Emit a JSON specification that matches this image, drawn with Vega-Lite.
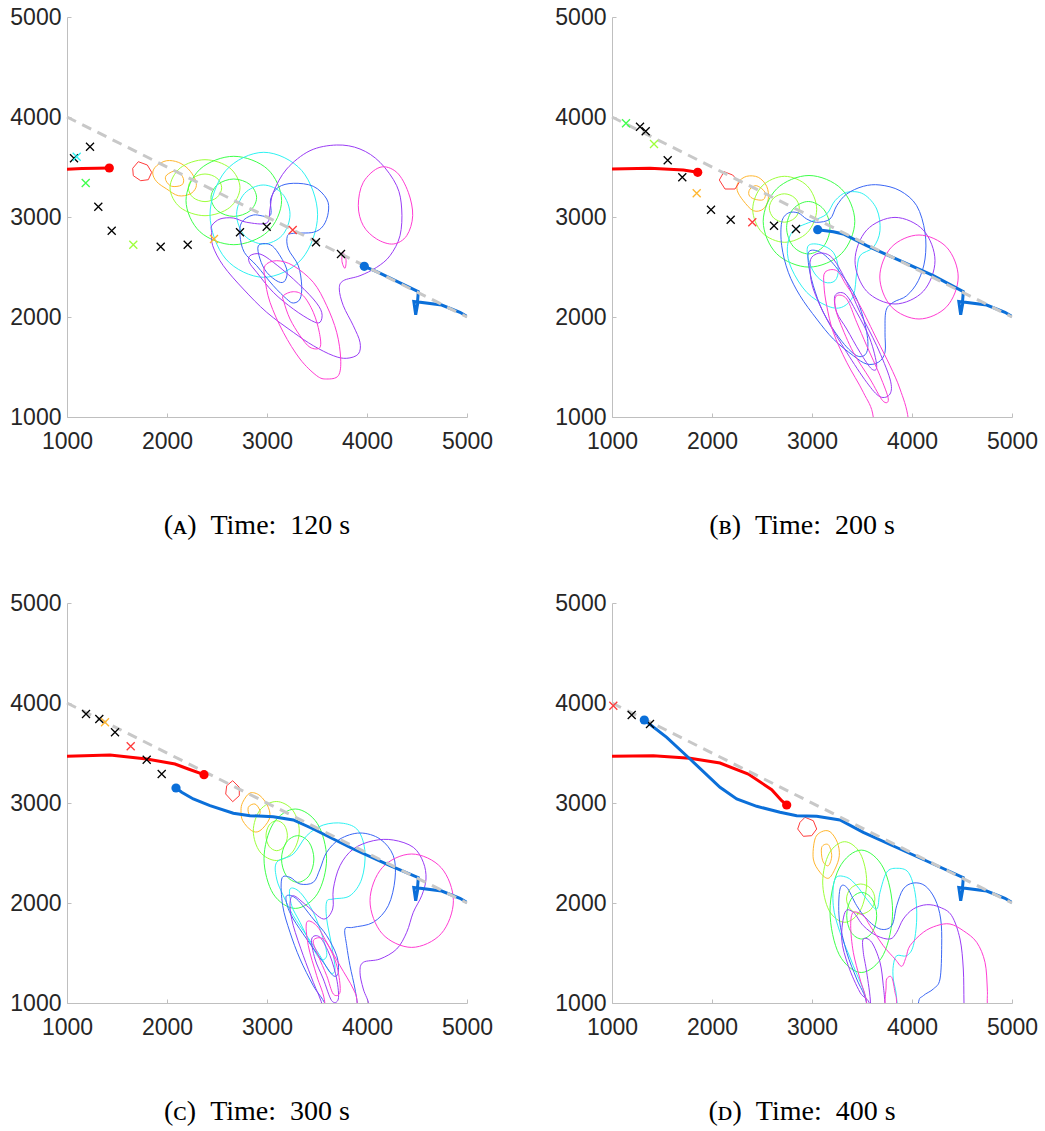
{
"$schema": "https://vega.github.io/schema/vega-lite/v6.json",
"background": "white",
"padding": {"left": 9, "top": 6, "right": 0, "bottom": 0},
"config": {
  "view": {"stroke": null},
  "axis": {"grid": false, "title": null, "domainColor": "#bfbfbf", "domainWidth": 1, "tickColor": "#bfbfbf", "tickSize": -4, "labelFont": "Liberation Sans", "labelFontSize": 23, "labelColor": "#262626", "labelFlush": false, "labelOverlap": false, "format": "d"},
  "axisX": {"labelPadding": 17},
  "axisY": {"labelPadding": 10},
  "title": {"font": "Liberation Serif", "fontSize": 28, "fontWeight": "normal", "color": "#000000", "orient": "bottom", "offset": 59, "dx": -10}
},
"datasets": {
"ref": [{"x": 1000, "y": 4000}, {"x": 5000, "y": 2000}],
"marks": [
{"p":"A","t":"x","g":"black","x":1070,"y":3587},{"p":"A","t":"x","g":"black","x":1230,"y":3703},{"p":"A","t":"x","g":"black","x":1313,"y":3103},{"p":"A","t":"x","g":"black","x":1447,"y":2863},{"p":"A","t":"x","g":"black","x":1937,"y":2703},{"p":"A","t":"x","g":"black","x":2207,"y":2723},{"p":"A","t":"x","g":"black","x":2730,"y":2847},{"p":"A","t":"x","g":"black","x":2997,"y":2903},{"p":"A","t":"x","g":"black","x":3490,"y":2747},{"p":"A","t":"x","g":"black","x":3740,"y":2630},
{"p":"A","t":"x","g":"cyan","x":1097,"y":3603},{"p":"A","t":"x","g":"green","x":1187,"y":3340},{"p":"A","t":"x","g":"ygreen","x":1663,"y":2723},{"p":"A","t":"x","g":"orange","x":2470,"y":2780},{"p":"A","t":"x","g":"red","x":3257,"y":2870},
{"p":"B","t":"x","g":"black","x":1280,"y":3903},{"p":"B","t":"x","g":"black","x":1337,"y":3857},{"p":"B","t":"x","g":"black","x":1557,"y":3567},{"p":"B","t":"x","g":"black","x":1703,"y":3397},{"p":"B","t":"x","g":"black","x":1990,"y":3073},{"p":"B","t":"x","g":"black","x":2187,"y":2973},{"p":"B","t":"x","g":"black","x":2620,"y":2913},{"p":"B","t":"x","g":"black","x":2840,"y":2880},
{"p":"B","t":"x","g":"green","x":1140,"y":3937},{"p":"B","t":"x","g":"ygreen","x":1420,"y":3730},{"p":"B","t":"x","g":"orange","x":1847,"y":3237},{"p":"B","t":"x","g":"red","x":2403,"y":2947},
{"p":"C","t":"x","g":"black","x":1190,"y":3890},{"p":"C","t":"x","g":"black","x":1323,"y":3840},{"p":"C","t":"x","g":"black","x":1480,"y":3707},{"p":"C","t":"x","g":"black","x":1797,"y":3433},{"p":"C","t":"x","g":"black","x":1947,"y":3290},
{"p":"C","t":"x","g":"orange","x":1380,"y":3807},{"p":"C","t":"x","g":"red","x":1637,"y":3567},
{"p":"D","t":"x","g":"black","x":1197,"y":3880},{"p":"D","t":"x","g":"black","x":1380,"y":3790},{"p":"D","t":"x","g":"red","x":1013,"y":3973},
{"p":"A","t":"dot","g":"tred","x":1423,"y":3490},{"p":"A","t":"dot","g":"tblue","x":3973,"y":2507},
{"p":"B","t":"dot","g":"tred","x":1857,"y":3447},{"p":"B","t":"dot","g":"tblue","x":3057,"y":2873},
{"p":"C","t":"dot","g":"tred","x":2370,"y":3283},{"p":"C","t":"dot","g":"tblue","x":2090,"y":3150},
{"p":"D","t":"dot","g":"tred","x":2747,"y":2980},{"p":"D","t":"dot","g":"tblue","x":1323,"y":3830}
],
"paths": [
{"p":"A","g":"tred","i":0,"x":1000,"y":3478},{"p":"A","g":"tred","i":1,"x":1150,"y":3484},{"p":"A","g":"tred","i":2,"x":1300,"y":3488},{"p":"A","g":"tred","i":3,"x":1423,"y":3490},
{"p":"A","g":"tblue","i":0,"x":3973,"y":2507},{"p":"A","g":"tblue","i":1,"x":4113,"y":2447},{"p":"A","g":"tblue","i":2,"x":4513,"y":2253},{"p":"A","g":"tblue","i":3,"x":4505,"y":2150},{"p":"A","g":"tblue","i":4,"x":4468,"y":2155},{"p":"A","g":"tblue","i":5,"x":4487,"y":2023},{"p":"A","g":"tblue","i":6,"x":4510,"y":2150},{"p":"A","g":"tblue","i":7,"x":4747,"y":2120},{"p":"A","g":"tblue","i":8,"x":4930,"y":2047},{"p":"A","g":"tblue","i":9,"x":5000,"y":2005},
{"p":"B","g":"tred","i":0,"x":1000,"y":3480},{"p":"B","g":"tred","i":1,"x":1380,"y":3487},{"p":"B","g":"tred","i":2,"x":1713,"y":3470},{"p":"B","g":"tred","i":3,"x":1857,"y":3447},
{"p":"B","g":"tblue","i":0,"x":3057,"y":2873},{"p":"B","g":"tblue","i":1,"x":3213,"y":2853},{"p":"B","g":"tblue","i":2,"x":3313,"y":2830},{"p":"B","g":"tblue","i":3,"x":3547,"y":2713},{"p":"B","g":"tblue","i":4,"x":3880,"y":2563},{"p":"B","g":"tblue","i":5,"x":4213,"y":2413},{"p":"B","g":"tblue","i":6,"x":4513,"y":2253},{"p":"B","g":"tblue","i":7,"x":4505,"y":2150},{"p":"B","g":"tblue","i":8,"x":4468,"y":2155},{"p":"B","g":"tblue","i":9,"x":4487,"y":2023},{"p":"B","g":"tblue","i":10,"x":4510,"y":2150},{"p":"B","g":"tblue","i":11,"x":4747,"y":2120},{"p":"B","g":"tblue","i":12,"x":4930,"y":2047},{"p":"B","g":"tblue","i":13,"x":5000,"y":2005},
{"p":"C","g":"tred","i":0,"x":1000,"y":3467},{"p":"C","g":"tred","i":1,"x":1430,"y":3480},{"p":"C","g":"tred","i":2,"x":1797,"y":3440},{"p":"C","g":"tred","i":3,"x":2080,"y":3390},{"p":"C","g":"tred","i":4,"x":2213,"y":3340},{"p":"C","g":"tred","i":5,"x":2370,"y":3283},
{"p":"C","g":"tblue","i":0,"x":2090,"y":3150},{"p":"C","g":"tblue","i":1,"x":2147,"y":3107},{"p":"C","g":"tblue","i":2,"x":2263,"y":3040},{"p":"C","g":"tblue","i":3,"x":2430,"y":2973},{"p":"C","g":"tblue","i":4,"x":2663,"y":2897},{"p":"C","g":"tblue","i":5,"x":2830,"y":2873},{"p":"C","g":"tblue","i":6,"x":3063,"y":2863},{"p":"C","g":"tblue","i":7,"x":3263,"y":2830},{"p":"C","g":"tblue","i":8,"x":3463,"y":2740},{"p":"C","g":"tblue","i":9,"x":3863,"y":2540},{"p":"C","g":"tblue","i":10,"x":4230,"y":2373},{"p":"C","g":"tblue","i":11,"x":4513,"y":2253},{"p":"C","g":"tblue","i":12,"x":4505,"y":2150},{"p":"C","g":"tblue","i":13,"x":4468,"y":2155},{"p":"C","g":"tblue","i":14,"x":4487,"y":2023},{"p":"C","g":"tblue","i":15,"x":4510,"y":2150},{"p":"C","g":"tblue","i":16,"x":4747,"y":2120},{"p":"C","g":"tblue","i":17,"x":4930,"y":2047},{"p":"C","g":"tblue","i":18,"x":5000,"y":2005},
{"p":"D","g":"tred","i":0,"x":1000,"y":3467},{"p":"D","g":"tred","i":1,"x":1413,"y":3473},{"p":"D","g":"tred","i":2,"x":1780,"y":3447},{"p":"D","g":"tred","i":3,"x":2080,"y":3400},{"p":"D","g":"tred","i":4,"x":2363,"y":3290},{"p":"D","g":"tred","i":5,"x":2597,"y":3133},{"p":"D","g":"tred","i":6,"x":2697,"y":3023},{"p":"D","g":"tred","i":7,"x":2747,"y":2980},
{"p":"D","g":"tblue","i":0,"x":1323,"y":3830},{"p":"D","g":"tblue","i":1,"x":1547,"y":3657},{"p":"D","g":"tblue","i":2,"x":1780,"y":3440},{"p":"D","g":"tblue","i":3,"x":2080,"y":3157},{"p":"D","g":"tblue","i":4,"x":2247,"y":3040},{"p":"D","g":"tblue","i":5,"x":2447,"y":2967},{"p":"D","g":"tblue","i":6,"x":2680,"y":2907},{"p":"D","g":"tblue","i":7,"x":2847,"y":2873},{"p":"D","g":"tblue","i":8,"x":3047,"y":2867},{"p":"D","g":"tblue","i":9,"x":3280,"y":2830},{"p":"D","g":"tblue","i":10,"x":3513,"y":2707},{"p":"D","g":"tblue","i":11,"x":3880,"y":2540},{"p":"D","g":"tblue","i":12,"x":4213,"y":2390},{"p":"D","g":"tblue","i":13,"x":4513,"y":2253},{"p":"D","g":"tblue","i":14,"x":4505,"y":2150},{"p":"D","g":"tblue","i":15,"x":4468,"y":2155},{"p":"D","g":"tblue","i":16,"x":4487,"y":2023},{"p":"D","g":"tblue","i":17,"x":4510,"y":2150},{"p":"D","g":"tblue","i":18,"x":4747,"y":2120},{"p":"D","g":"tblue","i":19,"x":4930,"y":2047},{"p":"D","g":"tblue","i":20,"x":5000,"y":2005}
],
"contours": [
{"p":"A","id":"A1","g":"red","i":0,"x":1713,"y":3553},{"p":"A","id":"A1","g":"red","i":1,"x":1803,"y":3520},{"p":"A","id":"A1","g":"red","i":2,"x":1847,"y":3447},{"p":"A","id":"A1","g":"red","i":3,"x":1813,"y":3373},{"p":"A","id":"A1","g":"red","i":4,"x":1737,"y":3363},{"p":"A","id":"A1","g":"red","i":5,"x":1663,"y":3413},{"p":"A","id":"A1","g":"red","i":6,"x":1657,"y":3487},
{"p":"A","id":"A2","g":"orange","i":0,"x":1897,"y":3513},{"p":"A","id":"A2","g":"orange","i":1,"x":1997,"y":3563},{"p":"A","id":"A2","g":"orange","i":2,"x":2113,"y":3547},{"p":"A","id":"A2","g":"orange","i":3,"x":2213,"y":3480},{"p":"A","id":"A2","g":"orange","i":4,"x":2280,"y":3380},{"p":"A","id":"A2","g":"orange","i":5,"x":2290,"y":3297},{"p":"A","id":"A2","g":"orange","i":6,"x":2230,"y":3230},{"p":"A","id":"A2","g":"orange","i":7,"x":2113,"y":3213},{"p":"A","id":"A2","g":"orange","i":8,"x":1997,"y":3280},{"p":"A","id":"A2","g":"orange","i":9,"x":1897,"y":3353},{"p":"A","id":"A2","g":"orange","i":10,"x":1857,"y":3440},
{"p":"A","id":"A3","g":"orange","i":0,"x":1997,"y":3420},{"p":"A","id":"A3","g":"orange","i":1,"x":2097,"y":3463},{"p":"A","id":"A3","g":"orange","i":2,"x":2163,"y":3387},{"p":"A","id":"A3","g":"orange","i":3,"x":2147,"y":3320},{"p":"A","id":"A3","g":"orange","i":4,"x":2047,"y":3307},{"p":"A","id":"A3","g":"orange","i":5,"x":1990,"y":3363},
{"p":"A","id":"A4","g":"ygreen","i":0,"x":2730,"y":3293},{"p":"A","id":"A4","g":"ygreen","i":1,"x":2627,"y":3491},{"p":"A","id":"A4","g":"ygreen","i":2,"x":2380,"y":3573},{"p":"A","id":"A4","g":"ygreen","i":3,"x":2133,"y":3491},{"p":"A","id":"A4","g":"ygreen","i":4,"x":2030,"y":3293},{"p":"A","id":"A4","g":"ygreen","i":5,"x":2133,"y":3095},{"p":"A","id":"A4","g":"ygreen","i":6,"x":2380,"y":3013},{"p":"A","id":"A4","g":"ygreen","i":7,"x":2627,"y":3095},
{"p":"A","id":"A5","g":"ygreen","i":0,"x":2547,"y":3292},{"p":"A","id":"A5","g":"ygreen","i":1,"x":2498,"y":3390},{"p":"A","id":"A5","g":"ygreen","i":2,"x":2380,"y":3430},{"p":"A","id":"A5","g":"ygreen","i":3,"x":2262,"y":3390},{"p":"A","id":"A5","g":"ygreen","i":4,"x":2213,"y":3292},{"p":"A","id":"A5","g":"ygreen","i":5,"x":2262,"y":3194},{"p":"A","id":"A5","g":"ygreen","i":6,"x":2380,"y":3154},{"p":"A","id":"A5","g":"ygreen","i":7,"x":2498,"y":3194},
{"p":"A","id":"A6","g":"green","i":0,"x":3146,"y":3165},{"p":"A","id":"A6","g":"green","i":1,"x":3006,"y":3478},{"p":"A","id":"A6","g":"green","i":2,"x":2668,"y":3607},{"p":"A","id":"A6","g":"green","i":3,"x":2330,"y":3478},{"p":"A","id":"A6","g":"green","i":4,"x":2190,"y":3165},{"p":"A","id":"A6","g":"green","i":5,"x":2330,"y":2852},{"p":"A","id":"A6","g":"green","i":6,"x":2668,"y":2723},{"p":"A","id":"A6","g":"green","i":7,"x":3006,"y":2852},
{"p":"A","id":"A7","g":"green","i":0,"x":2896,"y":3193},{"p":"A","id":"A7","g":"green","i":1,"x":2829,"y":3325},{"p":"A","id":"A7","g":"green","i":2,"x":2668,"y":3380},{"p":"A","id":"A7","g":"green","i":3,"x":2507,"y":3325},{"p":"A","id":"A7","g":"green","i":4,"x":2440,"y":3193},{"p":"A","id":"A7","g":"green","i":5,"x":2507,"y":3061},{"p":"A","id":"A7","g":"green","i":6,"x":2668,"y":3006},{"p":"A","id":"A7","g":"green","i":7,"x":2829,"y":3061},
{"p":"A","id":"A8","g":"cyan","i":0,"x":3506,"y":3022},{"p":"A","id":"A8","g":"cyan","i":1,"x":3348,"y":3464},{"p":"A","id":"A8","g":"cyan","i":2,"x":2968,"y":3647},{"p":"A","id":"A8","g":"cyan","i":3,"x":2588,"y":3464},{"p":"A","id":"A8","g":"cyan","i":4,"x":2430,"y":3022},{"p":"A","id":"A8","g":"cyan","i":5,"x":2588,"y":2580},{"p":"A","id":"A8","g":"cyan","i":6,"x":2968,"y":2397},{"p":"A","id":"A8","g":"cyan","i":7,"x":3348,"y":2580},
{"p":"A","id":"A9","g":"cyan","i":0,"x":3230,"y":3025},{"p":"A","id":"A9","g":"cyan","i":1,"x":3152,"y":3234},{"p":"A","id":"A9","g":"cyan","i":2,"x":2963,"y":3320},{"p":"A","id":"A9","g":"cyan","i":3,"x":2774,"y":3234},{"p":"A","id":"A9","g":"cyan","i":4,"x":2696,"y":3025},{"p":"A","id":"A9","g":"cyan","i":5,"x":2774,"y":2816},{"p":"A","id":"A9","g":"cyan","i":6,"x":2963,"y":2730},{"p":"A","id":"A9","g":"cyan","i":7,"x":3152,"y":2816},
{"p":"A","id":"A10","g":"blue","i":0,"x":3030,"y":3013},{"p":"A","id":"A10","g":"blue","i":1,"x":3037,"y":3180},{"p":"A","id":"A10","g":"blue","i":2,"x":3113,"y":3297},{"p":"A","id":"A10","g":"blue","i":3,"x":3263,"y":3337},{"p":"A","id":"A10","g":"blue","i":4,"x":3463,"y":3307},{"p":"A","id":"A10","g":"blue","i":5,"x":3597,"y":3180},{"p":"A","id":"A10","g":"blue","i":6,"x":3613,"y":3047},{"p":"A","id":"A10","g":"blue","i":7,"x":3563,"y":2913},{"p":"A","id":"A10","g":"blue","i":8,"x":3463,"y":2847},{"p":"A","id":"A10","g":"blue","i":9,"x":3263,"y":2837},{"p":"A","id":"A10","g":"blue","i":10,"x":3203,"y":2807},{"p":"A","id":"A10","g":"blue","i":11,"x":3213,"y":2680},{"p":"A","id":"A10","g":"blue","i":12,"x":3313,"y":2513},{"p":"A","id":"A10","g":"blue","i":13,"x":3347,"y":2313},{"p":"A","id":"A10","g":"blue","i":14,"x":3330,"y":2180},{"p":"A","id":"A10","g":"blue","i":15,"x":3263,"y":2140},{"p":"A","id":"A10","g":"blue","i":16,"x":3197,"y":2180},{"p":"A","id":"A10","g":"blue","i":17,"x":3063,"y":2313},{"p":"A","id":"A10","g":"blue","i":18,"x":2897,"y":2513},{"p":"A","id":"A10","g":"blue","i":19,"x":2773,"y":2647},{"p":"A","id":"A10","g":"blue","i":20,"x":2730,"y":2813},{"p":"A","id":"A10","g":"blue","i":21,"x":2747,"y":2947},{"p":"A","id":"A10","g":"blue","i":22,"x":2863,"y":3020},
{"p":"A","id":"A11","g":"blue","i":0,"x":2913,"y":2713},{"p":"A","id":"A11","g":"blue","i":1,"x":3013,"y":2730},{"p":"A","id":"A11","g":"blue","i":2,"x":3097,"y":2663},{"p":"A","id":"A11","g":"blue","i":3,"x":3197,"y":2480},{"p":"A","id":"A11","g":"blue","i":4,"x":3180,"y":2363},{"p":"A","id":"A11","g":"blue","i":5,"x":3113,"y":2353},{"p":"A","id":"A11","g":"blue","i":6,"x":2997,"y":2447},{"p":"A","id":"A11","g":"blue","i":7,"x":2930,"y":2580},
{"p":"A","id":"A12","g":"purple","i":0,"x":2447,"y":2913},{"p":"A","id":"A12","g":"purple","i":1,"x":2530,"y":2980},{"p":"A","id":"A12","g":"purple","i":2,"x":2663,"y":2990},{"p":"A","id":"A12","g":"purple","i":3,"x":2797,"y":2947},{"p":"A","id":"A12","g":"purple","i":4,"x":2997,"y":2940},{"p":"A","id":"A12","g":"purple","i":5,"x":3030,"y":3080},{"p":"A","id":"A12","g":"purple","i":6,"x":3063,"y":3247},{"p":"A","id":"A12","g":"purple","i":7,"x":3197,"y":3480},{"p":"A","id":"A12","g":"purple","i":8,"x":3430,"y":3663},{"p":"A","id":"A12","g":"purple","i":9,"x":3697,"y":3720},{"p":"A","id":"A12","g":"purple","i":10,"x":3930,"y":3680},{"p":"A","id":"A12","g":"purple","i":11,"x":4130,"y":3547},{"p":"A","id":"A12","g":"purple","i":12,"x":4297,"y":3313},{"p":"A","id":"A12","g":"purple","i":13,"x":4347,"y":3080},{"p":"A","id":"A12","g":"purple","i":14,"x":4330,"y":2813},{"p":"A","id":"A12","g":"purple","i":15,"x":4230,"y":2613},{"p":"A","id":"A12","g":"purple","i":16,"x":4097,"y":2497},{"p":"A","id":"A12","g":"purple","i":17,"x":3930,"y":2413},{"p":"A","id":"A12","g":"purple","i":18,"x":3763,"y":2363},{"p":"A","id":"A12","g":"purple","i":19,"x":3723,"y":2280},{"p":"A","id":"A12","g":"purple","i":20,"x":3763,"y":2113},{"p":"A","id":"A12","g":"purple","i":21,"x":3863,"y":1913},{"p":"A","id":"A12","g":"purple","i":22,"x":3930,"y":1747},{"p":"A","id":"A12","g":"purple","i":23,"x":3913,"y":1630},{"p":"A","id":"A12","g":"purple","i":24,"x":3797,"y":1587},{"p":"A","id":"A12","g":"purple","i":25,"x":3663,"y":1613},{"p":"A","id":"A12","g":"purple","i":26,"x":3463,"y":1713},{"p":"A","id":"A12","g":"purple","i":27,"x":3263,"y":1847},{"p":"A","id":"A12","g":"purple","i":28,"x":2997,"y":2047},{"p":"A","id":"A12","g":"purple","i":29,"x":2763,"y":2280},{"p":"A","id":"A12","g":"purple","i":30,"x":2563,"y":2513},{"p":"A","id":"A12","g":"purple","i":31,"x":2457,"y":2713},{"p":"A","id":"A12","g":"purple","i":32,"x":2447,"y":2847},
{"p":"A","id":"A13","g":"purple","i":0,"x":2830,"y":2613},{"p":"A","id":"A13","g":"purple","i":1,"x":2930,"y":2630},{"p":"A","id":"A13","g":"purple","i":2,"x":3063,"y":2547},{"p":"A","id":"A13","g":"purple","i":3,"x":3263,"y":2380},{"p":"A","id":"A13","g":"purple","i":4,"x":3463,"y":2180},{"p":"A","id":"A13","g":"purple","i":5,"x":3547,"y":2047},{"p":"A","id":"A13","g":"purple","i":6,"x":3530,"y":1947},{"p":"A","id":"A13","g":"purple","i":7,"x":3447,"y":1963},{"p":"A","id":"A13","g":"purple","i":8,"x":3263,"y":2080},{"p":"A","id":"A13","g":"purple","i":9,"x":3063,"y":2247},{"p":"A","id":"A13","g":"purple","i":10,"x":2897,"y":2447},{"p":"A","id":"A13","g":"purple","i":11,"x":2823,"y":2547},
{"p":"A","id":"A14","g":"magenta","i":0,"x":3913,"y":3113},{"p":"A","id":"A14","g":"magenta","i":1,"x":3963,"y":3347},{"p":"A","id":"A14","g":"magenta","i":2,"x":4130,"y":3497},{"p":"A","id":"A14","g":"magenta","i":3,"x":4297,"y":3447},{"p":"A","id":"A14","g":"magenta","i":4,"x":4413,"y":3247},{"p":"A","id":"A14","g":"magenta","i":5,"x":4457,"y":3013},{"p":"A","id":"A14","g":"magenta","i":6,"x":4397,"y":2813},{"p":"A","id":"A14","g":"magenta","i":7,"x":4263,"y":2730},{"p":"A","id":"A14","g":"magenta","i":8,"x":4097,"y":2780},{"p":"A","id":"A14","g":"magenta","i":9,"x":3963,"y":2913},
{"p":"A","id":"A15","g":"magenta","i":0,"x":2980,"y":2513},{"p":"A","id":"A15","g":"magenta","i":1,"x":3097,"y":2563},{"p":"A","id":"A15","g":"magenta","i":2,"x":3263,"y":2513},{"p":"A","id":"A15","g":"magenta","i":3,"x":3463,"y":2347},{"p":"A","id":"A15","g":"magenta","i":4,"x":3597,"y":2113},{"p":"A","id":"A15","g":"magenta","i":5,"x":3697,"y":1847},{"p":"A","id":"A15","g":"magenta","i":6,"x":3737,"y":1580},{"p":"A","id":"A15","g":"magenta","i":7,"x":3713,"y":1413},{"p":"A","id":"A15","g":"magenta","i":8,"x":3597,"y":1380},{"p":"A","id":"A15","g":"magenta","i":9,"x":3497,"y":1413},{"p":"A","id":"A15","g":"magenta","i":10,"x":3330,"y":1580},{"p":"A","id":"A15","g":"magenta","i":11,"x":3163,"y":1847},{"p":"A","id":"A15","g":"magenta","i":12,"x":3030,"y":2147},{"p":"A","id":"A15","g":"magenta","i":13,"x":2980,"y":2380},
{"p":"A","id":"A16","g":"magenta","i":0,"x":3163,"y":2213},{"p":"A","id":"A16","g":"magenta","i":1,"x":3263,"y":2253},{"p":"A","id":"A16","g":"magenta","i":2,"x":3363,"y":2213},{"p":"A","id":"A16","g":"magenta","i":3,"x":3463,"y":2047},{"p":"A","id":"A16","g":"magenta","i":4,"x":3523,"y":1847},{"p":"A","id":"A16","g":"magenta","i":5,"x":3530,"y":1697},{"p":"A","id":"A16","g":"magenta","i":6,"x":3430,"y":1697},{"p":"A","id":"A16","g":"magenta","i":7,"x":3330,"y":1813},{"p":"A","id":"A16","g":"magenta","i":8,"x":3230,"y":1980},{"p":"A","id":"A16","g":"magenta","i":9,"x":3170,"y":2147},
{"p":"A","id":"A17","g":"magenta","i":0,"x":3757,"y":2647},{"p":"A","id":"A17","g":"magenta","i":1,"x":3790,"y":2573},{"p":"A","id":"A17","g":"magenta","i":2,"x":3780,"y":2487},{"p":"A","id":"A17","g":"magenta","i":3,"x":3750,"y":2553},
{"p":"B","id":"B1","g":"red","i":0,"x":2073,"y":3370},{"p":"B","id":"B1","g":"red","i":1,"x":2120,"y":3453},{"p":"B","id":"B1","g":"red","i":2,"x":2207,"y":3420},{"p":"B","id":"B1","g":"red","i":3,"x":2273,"y":3347},{"p":"B","id":"B1","g":"red","i":4,"x":2230,"y":3280},{"p":"B","id":"B1","g":"red","i":5,"x":2130,"y":3280},
{"p":"B","id":"B2","g":"orange","i":0,"x":2263,"y":3347},{"p":"B","id":"B2","g":"orange","i":1,"x":2347,"y":3407},{"p":"B","id":"B2","g":"orange","i":2,"x":2463,"y":3397},{"p":"B","id":"B2","g":"orange","i":3,"x":2547,"y":3307},{"p":"B","id":"B2","g":"orange","i":4,"x":2563,"y":3180},{"p":"B","id":"B2","g":"orange","i":5,"x":2513,"y":3080},{"p":"B","id":"B2","g":"orange","i":6,"x":2413,"y":3063},{"p":"B","id":"B2","g":"orange","i":7,"x":2313,"y":3163},{"p":"B","id":"B2","g":"orange","i":8,"x":2253,"y":3263},
{"p":"B","id":"B3","g":"orange","i":0,"x":2380,"y":3280},{"p":"B","id":"B3","g":"orange","i":1,"x":2447,"y":3313},{"p":"B","id":"B3","g":"orange","i":2,"x":2530,"y":3247},{"p":"B","id":"B3","g":"orange","i":3,"x":2513,"y":3173},{"p":"B","id":"B3","g":"orange","i":4,"x":2420,"y":3180},{"p":"B","id":"B3","g":"orange","i":5,"x":2370,"y":3220},
{"p":"B","id":"B4","g":"ygreen","i":0,"x":3047,"y":3077},{"p":"B","id":"B4","g":"ygreen","i":1,"x":2953,"y":3310},{"p":"B","id":"B4","g":"ygreen","i":2,"x":2727,"y":3407},{"p":"B","id":"B4","g":"ygreen","i":3,"x":2501,"y":3310},{"p":"B","id":"B4","g":"ygreen","i":4,"x":2407,"y":3077},{"p":"B","id":"B4","g":"ygreen","i":5,"x":2501,"y":2844},{"p":"B","id":"B4","g":"ygreen","i":6,"x":2727,"y":2747},{"p":"B","id":"B4","g":"ygreen","i":7,"x":2953,"y":2844},
{"p":"B","id":"B5","g":"ygreen","i":0,"x":2873,"y":3090},{"p":"B","id":"B5","g":"ygreen","i":1,"x":2829,"y":3190},{"p":"B","id":"B5","g":"ygreen","i":2,"x":2723,"y":3232},{"p":"B","id":"B5","g":"ygreen","i":3,"x":2617,"y":3190},{"p":"B","id":"B5","g":"ygreen","i":4,"x":2573,"y":3090},{"p":"B","id":"B5","g":"ygreen","i":5,"x":2617,"y":2990},{"p":"B","id":"B5","g":"ygreen","i":6,"x":2723,"y":2948},{"p":"B","id":"B5","g":"ygreen","i":7,"x":2829,"y":2990},
{"p":"B","id":"B6","g":"green","i":0,"x":3428,"y":2957},{"p":"B","id":"B6","g":"green","i":1,"x":3294,"y":3281},{"p":"B","id":"B6","g":"green","i":2,"x":2970,"y":3415},{"p":"B","id":"B6","g":"green","i":3,"x":2646,"y":3281},{"p":"B","id":"B6","g":"green","i":4,"x":2512,"y":2957},{"p":"B","id":"B6","g":"green","i":5,"x":2646,"y":2633},{"p":"B","id":"B6","g":"green","i":6,"x":2970,"y":2499},{"p":"B","id":"B6","g":"green","i":7,"x":3294,"y":2633},
{"p":"B","id":"B7","g":"green","i":0,"x":3180,"y":2893},{"p":"B","id":"B7","g":"green","i":1,"x":3116,"y":3078},{"p":"B","id":"B7","g":"green","i":2,"x":2963,"y":3155},{"p":"B","id":"B7","g":"green","i":3,"x":2810,"y":3078},{"p":"B","id":"B7","g":"green","i":4,"x":2746,"y":2893},{"p":"B","id":"B7","g":"green","i":5,"x":2810,"y":2708},{"p":"B","id":"B7","g":"green","i":6,"x":2963,"y":2631},{"p":"B","id":"B7","g":"green","i":7,"x":3116,"y":2708},
{"p":"B","id":"B8","g":"cyan","i":0,"x":2813,"y":2863},{"p":"B","id":"B8","g":"cyan","i":1,"x":3013,"y":2963},{"p":"B","id":"B8","g":"cyan","i":2,"x":3147,"y":3030},{"p":"B","id":"B8","g":"cyan","i":3,"x":3230,"y":3163},{"p":"B","id":"B8","g":"cyan","i":4,"x":3347,"y":3247},{"p":"B","id":"B8","g":"cyan","i":5,"x":3513,"y":3230},{"p":"B","id":"B8","g":"cyan","i":6,"x":3647,"y":3080},{"p":"B","id":"B8","g":"cyan","i":7,"x":3680,"y":2863},{"p":"B","id":"B8","g":"cyan","i":8,"x":3613,"y":2697},{"p":"B","id":"B8","g":"cyan","i":9,"x":3480,"y":2613},{"p":"B","id":"B8","g":"cyan","i":10,"x":3447,"y":2447},{"p":"B","id":"B8","g":"cyan","i":11,"x":3413,"y":2213},{"p":"B","id":"B8","g":"cyan","i":12,"x":3297,"y":2097},{"p":"B","id":"B8","g":"cyan","i":13,"x":3147,"y":2113},{"p":"B","id":"B8","g":"cyan","i":14,"x":2947,"y":2247},{"p":"B","id":"B8","g":"cyan","i":15,"x":2797,"y":2480},{"p":"B","id":"B8","g":"cyan","i":16,"x":2753,"y":2680},
{"p":"B","id":"B9","g":"cyan","i":0,"x":2963,"y":2713},{"p":"B","id":"B9","g":"cyan","i":1,"x":3080,"y":2723},{"p":"B","id":"B9","g":"cyan","i":2,"x":3213,"y":2647},{"p":"B","id":"B9","g":"cyan","i":3,"x":3263,"y":2480},{"p":"B","id":"B9","g":"cyan","i":4,"x":3230,"y":2363},{"p":"B","id":"B9","g":"cyan","i":5,"x":3130,"y":2347},{"p":"B","id":"B9","g":"cyan","i":6,"x":3030,"y":2430},{"p":"B","id":"B9","g":"cyan","i":7,"x":2963,"y":2580},
{"p":"B","id":"B10","g":"blue","i":0,"x":3180,"y":2980},{"p":"B","id":"B10","g":"blue","i":1,"x":3247,"y":3113},{"p":"B","id":"B10","g":"blue","i":2,"x":3347,"y":3230},{"p":"B","id":"B10","g":"blue","i":3,"x":3513,"y":3307},{"p":"B","id":"B10","g":"blue","i":4,"x":3680,"y":3320},{"p":"B","id":"B10","g":"blue","i":5,"x":3880,"y":3263},{"p":"B","id":"B10","g":"blue","i":6,"x":4047,"y":3113},{"p":"B","id":"B10","g":"blue","i":7,"x":4130,"y":2847},{"p":"B","id":"B10","g":"blue","i":8,"x":4130,"y":2580},{"p":"B","id":"B10","g":"blue","i":9,"x":4063,"y":2363},{"p":"B","id":"B10","g":"blue","i":10,"x":3947,"y":2213},{"p":"B","id":"B10","g":"blue","i":11,"x":3813,"y":2147},{"p":"B","id":"B10","g":"blue","i":12,"x":3740,"y":2063},{"p":"B","id":"B10","g":"blue","i":13,"x":3730,"y":1847},{"p":"B","id":"B10","g":"blue","i":14,"x":3730,"y":1647},{"p":"B","id":"B10","g":"blue","i":15,"x":3663,"y":1547},{"p":"B","id":"B10","g":"blue","i":16,"x":3547,"y":1530},{"p":"B","id":"B10","g":"blue","i":17,"x":3413,"y":1613},{"p":"B","id":"B10","g":"blue","i":18,"x":3213,"y":1780},{"p":"B","id":"B10","g":"blue","i":19,"x":3047,"y":1980},{"p":"B","id":"B10","g":"blue","i":20,"x":2880,"y":2213},{"p":"B","id":"B10","g":"blue","i":21,"x":2763,"y":2447},{"p":"B","id":"B10","g":"blue","i":22,"x":2697,"y":2713},{"p":"B","id":"B10","g":"blue","i":23,"x":2697,"y":2947},{"p":"B","id":"B10","g":"blue","i":24,"x":2763,"y":3040},{"p":"B","id":"B10","g":"blue","i":25,"x":2863,"y":3040},{"p":"B","id":"B10","g":"blue","i":26,"x":2947,"y":2980},{"p":"B","id":"B10","g":"blue","i":27,"x":3047,"y":2947},
{"p":"B","id":"B11","g":"blue","i":0,"x":2980,"y":2663},{"p":"B","id":"B11","g":"blue","i":1,"x":3113,"y":2630},{"p":"B","id":"B11","g":"blue","i":2,"x":3280,"y":2447},{"p":"B","id":"B11","g":"blue","i":3,"x":3447,"y":2180},{"p":"B","id":"B11","g":"blue","i":4,"x":3547,"y":1847},{"p":"B","id":"B11","g":"blue","i":5,"x":3547,"y":1647},{"p":"B","id":"B11","g":"blue","i":6,"x":3447,"y":1613},{"p":"B","id":"B11","g":"blue","i":7,"x":3280,"y":1780},{"p":"B","id":"B11","g":"blue","i":8,"x":3113,"y":2047},{"p":"B","id":"B11","g":"blue","i":9,"x":3013,"y":2313},{"p":"B","id":"B11","g":"blue","i":10,"x":2963,"y":2547},
{"p":"B","id":"B12","g":"purple","i":0,"x":4230,"y":2563},{"p":"B","id":"B12","g":"purple","i":1,"x":4113,"y":2869},{"p":"B","id":"B12","g":"purple","i":2,"x":3830,"y":2996},{"p":"B","id":"B12","g":"purple","i":3,"x":3547,"y":2869},{"p":"B","id":"B12","g":"purple","i":4,"x":3430,"y":2563},{"p":"B","id":"B12","g":"purple","i":5,"x":3547,"y":2257},{"p":"B","id":"B12","g":"purple","i":6,"x":3830,"y":2130},{"p":"B","id":"B12","g":"purple","i":7,"x":4113,"y":2257},
{"p":"B","id":"B13","g":"purple","i":0,"x":2997,"y":2597},{"p":"B","id":"B13","g":"purple","i":1,"x":3097,"y":2640},{"p":"B","id":"B13","g":"purple","i":2,"x":3213,"y":2580},{"p":"B","id":"B13","g":"purple","i":3,"x":3347,"y":2347},{"p":"B","id":"B13","g":"purple","i":4,"x":3480,"y":2047},{"p":"B","id":"B13","g":"purple","i":5,"x":3647,"y":1713},{"p":"B","id":"B13","g":"purple","i":6,"x":3780,"y":1380},{"p":"B","id":"B13","g":"purple","i":7,"x":3780,"y":1230},{"p":"B","id":"B13","g":"purple","i":8,"x":3680,"y":1203},{"p":"B","id":"B13","g":"purple","i":9,"x":3547,"y":1347},{"p":"B","id":"B13","g":"purple","i":10,"x":3347,"y":1647},{"p":"B","id":"B13","g":"purple","i":11,"x":3147,"y":1980},{"p":"B","id":"B13","g":"purple","i":12,"x":3013,"y":2280},{"p":"B","id":"B13","g":"purple","i":13,"x":2980,"y":2480},
{"p":"B","id":"B14","g":"purple","i":0,"x":3230,"y":2213},{"p":"B","id":"B14","g":"purple","i":1,"x":3330,"y":2230},{"p":"B","id":"B14","g":"purple","i":2,"x":3447,"y":2047},{"p":"B","id":"B14","g":"purple","i":3,"x":3580,"y":1780},{"p":"B","id":"B14","g":"purple","i":4,"x":3647,"y":1513},{"p":"B","id":"B14","g":"purple","i":5,"x":3597,"y":1480},{"p":"B","id":"B14","g":"purple","i":6,"x":3480,"y":1647},{"p":"B","id":"B14","g":"purple","i":7,"x":3347,"y":1880},{"p":"B","id":"B14","g":"purple","i":8,"x":3247,"y":2047},
{"p":"B","id":"B15","g":"magenta","i":0,"x":4462,"y":2400},{"p":"B","id":"B15","g":"magenta","i":1,"x":4347,"y":2697},{"p":"B","id":"B15","g":"magenta","i":2,"x":4070,"y":2820},{"p":"B","id":"B15","g":"magenta","i":3,"x":3793,"y":2697},{"p":"B","id":"B15","g":"magenta","i":4,"x":3678,"y":2400},{"p":"B","id":"B15","g":"magenta","i":5,"x":3793,"y":2103},{"p":"B","id":"B15","g":"magenta","i":6,"x":4070,"y":1980},{"p":"B","id":"B15","g":"magenta","i":7,"x":4347,"y":2103},
{"p":"B","id":"B16","g":"magenta","i":0,"x":3130,"y":2447},{"p":"B","id":"B16","g":"magenta","i":1,"x":3247,"y":2463},{"p":"B","id":"B16","g":"magenta","i":2,"x":3347,"y":2313},{"p":"B","id":"B16","g":"magenta","i":3,"x":3480,"y":2113},{"p":"B","id":"B16","g":"magenta","i":4,"x":3647,"y":1780},{"p":"B","id":"B16","g":"magenta","i":5,"x":3780,"y":1513},{"p":"B","id":"B16","g":"magenta","i":6,"x":3880,"y":1280},{"p":"B","id":"B16","g":"magenta","i":7,"x":3963,"y":980},{"p":"B","id":"B16","g":"magenta","i":8,"x":3980,"y":513},{"p":"B","id":"B16","g":"magenta","i":9,"x":3613,"y":513},{"p":"B","id":"B16","g":"magenta","i":10,"x":3613,"y":997},{"p":"B","id":"B16","g":"magenta","i":11,"x":3513,"y":1247},{"p":"B","id":"B16","g":"magenta","i":12,"x":3347,"y":1547},{"p":"B","id":"B16","g":"magenta","i":13,"x":3213,"y":1847},{"p":"B","id":"B16","g":"magenta","i":14,"x":3147,"y":2113},{"p":"B","id":"B16","g":"magenta","i":15,"x":3120,"y":2313},
{"p":"B","id":"B17","g":"magenta","i":0,"x":3247,"y":2213},{"p":"B","id":"B17","g":"magenta","i":1,"x":3347,"y":2180},{"p":"B","id":"B17","g":"magenta","i":2,"x":3447,"y":1947},{"p":"B","id":"B17","g":"magenta","i":3,"x":3547,"y":1713},{"p":"B","id":"B17","g":"magenta","i":4,"x":3680,"y":1413},{"p":"B","id":"B17","g":"magenta","i":5,"x":3763,"y":1180},{"p":"B","id":"B17","g":"magenta","i":6,"x":3707,"y":1163},{"p":"B","id":"B17","g":"magenta","i":7,"x":3580,"y":1380},{"p":"B","id":"B17","g":"magenta","i":8,"x":3413,"y":1647},{"p":"B","id":"B17","g":"magenta","i":9,"x":3280,"y":1947},{"p":"B","id":"B17","g":"magenta","i":10,"x":3230,"y":2113},
{"p":"C","id":"C1","g":"red","i":0,"x":2597,"y":3173},{"p":"C","id":"C1","g":"red","i":1,"x":2657,"y":3223},{"p":"C","id":"C1","g":"red","i":2,"x":2723,"y":3157},{"p":"C","id":"C1","g":"red","i":3,"x":2723,"y":3073},{"p":"C","id":"C1","g":"red","i":4,"x":2657,"y":3013},{"p":"C","id":"C1","g":"red","i":5,"x":2587,"y":3090},
{"p":"C","id":"C2","g":"orange","i":0,"x":2757,"y":3007},{"p":"C","id":"C2","g":"orange","i":1,"x":2830,"y":3100},{"p":"C","id":"C2","g":"orange","i":2,"x":2930,"y":3073},{"p":"C","id":"C2","g":"orange","i":3,"x":3013,"y":2957},{"p":"C","id":"C2","g":"orange","i":4,"x":3023,"y":2840},{"p":"C","id":"C2","g":"orange","i":5,"x":2930,"y":2723},{"p":"C","id":"C2","g":"orange","i":6,"x":2847,"y":2723},{"p":"C","id":"C2","g":"orange","i":7,"x":2757,"y":2823},{"p":"C","id":"C2","g":"orange","i":8,"x":2740,"y":2923},
{"p":"C","id":"C3","g":"orange","i":0,"x":2813,"y":2957},{"p":"C","id":"C3","g":"orange","i":1,"x":2880,"y":2990},{"p":"C","id":"C3","g":"orange","i":2,"x":2930,"y":2923},{"p":"C","id":"C3","g":"orange","i":3,"x":2913,"y":2873},{"p":"C","id":"C3","g":"orange","i":4,"x":2830,"y":2873},
{"p":"C","id":"C4","g":"ygreen","i":0,"x":3323,"y":2720},{"p":"C","id":"C4","g":"ygreen","i":1,"x":3256,"y":2929},{"p":"C","id":"C4","g":"ygreen","i":2,"x":3093,"y":3015},{"p":"C","id":"C4","g":"ygreen","i":3,"x":2930,"y":2929},{"p":"C","id":"C4","g":"ygreen","i":4,"x":2863,"y":2720},{"p":"C","id":"C4","g":"ygreen","i":5,"x":2930,"y":2511},{"p":"C","id":"C4","g":"ygreen","i":6,"x":3093,"y":2425},{"p":"C","id":"C4","g":"ygreen","i":7,"x":3256,"y":2511},
{"p":"C","id":"C5","g":"ygreen","i":0,"x":3204,"y":2673},{"p":"C","id":"C5","g":"ygreen","i":1,"x":3173,"y":2779},{"p":"C","id":"C5","g":"ygreen","i":2,"x":3097,"y":2823},{"p":"C","id":"C5","g":"ygreen","i":3,"x":3021,"y":2779},{"p":"C","id":"C5","g":"ygreen","i":4,"x":2990,"y":2673},{"p":"C","id":"C5","g":"ygreen","i":5,"x":3021,"y":2567},{"p":"C","id":"C5","g":"ygreen","i":6,"x":3097,"y":2523},{"p":"C","id":"C5","g":"ygreen","i":7,"x":3173,"y":2567},
{"p":"C","id":"C6","g":"green","i":0,"x":3596,"y":2443},{"p":"C","id":"C6","g":"green","i":1,"x":3504,"y":2794},{"p":"C","id":"C6","g":"green","i":2,"x":3283,"y":2940},{"p":"C","id":"C6","g":"green","i":3,"x":3062,"y":2794},{"p":"C","id":"C6","g":"green","i":4,"x":2970,"y":2443},{"p":"C","id":"C6","g":"green","i":5,"x":3062,"y":2092},{"p":"C","id":"C6","g":"green","i":6,"x":3283,"y":1946},{"p":"C","id":"C6","g":"green","i":7,"x":3504,"y":2092},
{"p":"C","id":"C7","g":"green","i":0,"x":3469,"y":2440},{"p":"C","id":"C7","g":"green","i":1,"x":3422,"y":2605},{"p":"C","id":"C7","g":"green","i":2,"x":3307,"y":2673},{"p":"C","id":"C7","g":"green","i":3,"x":3192,"y":2605},{"p":"C","id":"C7","g":"green","i":4,"x":3145,"y":2440},{"p":"C","id":"C7","g":"green","i":5,"x":3192,"y":2275},{"p":"C","id":"C7","g":"green","i":6,"x":3307,"y":2207},{"p":"C","id":"C7","g":"green","i":7,"x":3422,"y":2275},
{"p":"C","id":"C8","g":"cyan","i":0,"x":3097,"y":2407},{"p":"C","id":"C8","g":"cyan","i":1,"x":3263,"y":2490},{"p":"C","id":"C8","g":"cyan","i":2,"x":3397,"y":2673},{"p":"C","id":"C8","g":"cyan","i":3,"x":3563,"y":2780},{"p":"C","id":"C8","g":"cyan","i":4,"x":3763,"y":2797},{"p":"C","id":"C8","g":"cyan","i":5,"x":3913,"y":2723},{"p":"C","id":"C8","g":"cyan","i":6,"x":3980,"y":2507},{"p":"C","id":"C8","g":"cyan","i":7,"x":3947,"y":2240},{"p":"C","id":"C8","g":"cyan","i":8,"x":3830,"y":2073},{"p":"C","id":"C8","g":"cyan","i":9,"x":3663,"y":2040},{"p":"C","id":"C8","g":"cyan","i":10,"x":3597,"y":2013},{"p":"C","id":"C8","g":"cyan","i":11,"x":3597,"y":1840},{"p":"C","id":"C8","g":"cyan","i":12,"x":3647,"y":1573},{"p":"C","id":"C8","g":"cyan","i":13,"x":3680,"y":1340},{"p":"C","id":"C8","g":"cyan","i":14,"x":3630,"y":1307},{"p":"C","id":"C8","g":"cyan","i":15,"x":3530,"y":1473},{"p":"C","id":"C8","g":"cyan","i":16,"x":3397,"y":1673},{"p":"C","id":"C8","g":"cyan","i":17,"x":3263,"y":1873},{"p":"C","id":"C8","g":"cyan","i":18,"x":3163,"y":2073},{"p":"C","id":"C8","g":"cyan","i":19,"x":3097,"y":2240},
{"p":"C","id":"C9","g":"cyan","i":0,"x":3230,"y":2140},{"p":"C","id":"C9","g":"cyan","i":1,"x":3330,"y":2107},{"p":"C","id":"C9","g":"cyan","i":2,"x":3463,"y":1907},{"p":"C","id":"C9","g":"cyan","i":3,"x":3563,"y":1640},{"p":"C","id":"C9","g":"cyan","i":4,"x":3597,"y":1473},{"p":"C","id":"C9","g":"cyan","i":5,"x":3530,"y":1440},{"p":"C","id":"C9","g":"cyan","i":6,"x":3430,"y":1607},{"p":"C","id":"C9","g":"cyan","i":7,"x":3330,"y":1807},{"p":"C","id":"C9","g":"cyan","i":8,"x":3247,"y":1973},
{"p":"C","id":"C10","g":"blue","i":0,"x":3147,"y":2240},{"p":"C","id":"C10","g":"blue","i":1,"x":3230,"y":2257},{"p":"C","id":"C10","g":"blue","i":2,"x":3330,"y":2190},{"p":"C","id":"C10","g":"blue","i":3,"x":3463,"y":2207},{"p":"C","id":"C10","g":"blue","i":4,"x":3530,"y":2340},{"p":"C","id":"C10","g":"blue","i":5,"x":3597,"y":2507},{"p":"C","id":"C10","g":"blue","i":6,"x":3730,"y":2640},{"p":"C","id":"C10","g":"blue","i":7,"x":3930,"y":2700},{"p":"C","id":"C10","g":"blue","i":8,"x":4130,"y":2640},{"p":"C","id":"C10","g":"blue","i":9,"x":4263,"y":2473},{"p":"C","id":"C10","g":"blue","i":10,"x":4280,"y":2240},{"p":"C","id":"C10","g":"blue","i":11,"x":4213,"y":1973},{"p":"C","id":"C10","g":"blue","i":12,"x":4063,"y":1807},{"p":"C","id":"C10","g":"blue","i":13,"x":3863,"y":1757},{"p":"C","id":"C10","g":"blue","i":14,"x":3780,"y":1740},{"p":"C","id":"C10","g":"blue","i":15,"x":3797,"y":1573},{"p":"C","id":"C10","g":"blue","i":16,"x":3830,"y":1373},{"p":"C","id":"C10","g":"blue","i":17,"x":3880,"y":1140},{"p":"C","id":"C10","g":"blue","i":18,"x":3907,"y":940},{"p":"C","id":"C10","g":"blue","i":19,"x":3913,"y":573},{"p":"C","id":"C10","g":"blue","i":20,"x":3597,"y":573},{"p":"C","id":"C10","g":"blue","i":21,"x":3597,"y":940},{"p":"C","id":"C10","g":"blue","i":22,"x":3463,"y":1173},{"p":"C","id":"C10","g":"blue","i":23,"x":3330,"y":1440},{"p":"C","id":"C10","g":"blue","i":24,"x":3230,"y":1707},{"p":"C","id":"C10","g":"blue","i":25,"x":3157,"y":1973},
{"p":"C","id":"C11","g":"blue","i":0,"x":3197,"y":2073},{"p":"C","id":"C11","g":"blue","i":1,"x":3297,"y":2040},{"p":"C","id":"C11","g":"blue","i":2,"x":3463,"y":1840},{"p":"C","id":"C11","g":"blue","i":3,"x":3597,"y":1673},{"p":"C","id":"C11","g":"blue","i":4,"x":3697,"y":1473},{"p":"C","id":"C11","g":"blue","i":5,"x":3713,"y":1307},{"p":"C","id":"C11","g":"blue","i":6,"x":3663,"y":1273},{"p":"C","id":"C11","g":"blue","i":7,"x":3563,"y":1407},{"p":"C","id":"C11","g":"blue","i":8,"x":3397,"y":1640},{"p":"C","id":"C11","g":"blue","i":9,"x":3263,"y":1840},{"p":"C","id":"C11","g":"blue","i":10,"x":3203,"y":1973},
{"p":"C","id":"C12","g":"purple","i":0,"x":3657,"y":1940},{"p":"C","id":"C12","g":"purple","i":1,"x":3663,"y":2140},{"p":"C","id":"C12","g":"purple","i":2,"x":3730,"y":2373},{"p":"C","id":"C12","g":"purple","i":3,"x":3863,"y":2540},{"p":"C","id":"C12","g":"purple","i":4,"x":4063,"y":2623},{"p":"C","id":"C12","g":"purple","i":5,"x":4263,"y":2630},{"p":"C","id":"C12","g":"purple","i":6,"x":4463,"y":2557},{"p":"C","id":"C12","g":"purple","i":7,"x":4563,"y":2407},{"p":"C","id":"C12","g":"purple","i":8,"x":4590,"y":2240},{"p":"C","id":"C12","g":"purple","i":9,"x":4547,"y":2073},{"p":"C","id":"C12","g":"purple","i":10,"x":4463,"y":1907},{"p":"C","id":"C12","g":"purple","i":11,"x":4397,"y":1707},{"p":"C","id":"C12","g":"purple","i":12,"x":4297,"y":1540},{"p":"C","id":"C12","g":"purple","i":13,"x":4130,"y":1440},{"p":"C","id":"C12","g":"purple","i":14,"x":3963,"y":1407},{"p":"C","id":"C12","g":"purple","i":15,"x":3930,"y":1307},{"p":"C","id":"C12","g":"purple","i":16,"x":3963,"y":1140},{"p":"C","id":"C12","g":"purple","i":17,"x":4030,"y":940},{"p":"C","id":"C12","g":"purple","i":18,"x":4047,"y":573},{"p":"C","id":"C12","g":"purple","i":19,"x":3597,"y":573},{"p":"C","id":"C12","g":"purple","i":20,"x":3563,"y":940},{"p":"C","id":"C12","g":"purple","i":21,"x":3463,"y":1207},{"p":"C","id":"C12","g":"purple","i":22,"x":3363,"y":1473},{"p":"C","id":"C12","g":"purple","i":23,"x":3263,"y":1773},{"p":"C","id":"C12","g":"purple","i":24,"x":3230,"y":1973},{"p":"C","id":"C12","g":"purple","i":25,"x":3263,"y":2073},{"p":"C","id":"C12","g":"purple","i":26,"x":3397,"y":1973},{"p":"C","id":"C12","g":"purple","i":27,"x":3563,"y":1840},
{"p":"C","id":"C13","g":"purple","i":0,"x":3447,"y":1640},{"p":"C","id":"C13","g":"purple","i":1,"x":3530,"y":1657},{"p":"C","id":"C13","g":"purple","i":2,"x":3630,"y":1473},{"p":"C","id":"C13","g":"purple","i":3,"x":3697,"y":1240},{"p":"C","id":"C13","g":"purple","i":4,"x":3713,"y":1040},{"p":"C","id":"C13","g":"purple","i":5,"x":3647,"y":1023},{"p":"C","id":"C13","g":"purple","i":6,"x":3563,"y":1240},{"p":"C","id":"C13","g":"purple","i":7,"x":3480,"y":1440},
{"p":"C","id":"C14","g":"magenta","i":0,"x":4864,"y":2023},{"p":"C","id":"C14","g":"magenta","i":1,"x":4742,"y":2353},{"p":"C","id":"C14","g":"magenta","i":2,"x":4447,"y":2490},{"p":"C","id":"C14","g":"magenta","i":3,"x":4152,"y":2353},{"p":"C","id":"C14","g":"magenta","i":4,"x":4030,"y":2023},{"p":"C","id":"C14","g":"magenta","i":5,"x":4152,"y":1693},{"p":"C","id":"C14","g":"magenta","i":6,"x":4447,"y":1556},{"p":"C","id":"C14","g":"magenta","i":7,"x":4742,"y":1693},
{"p":"C","id":"C15","g":"magenta","i":0,"x":3397,"y":1807},{"p":"C","id":"C15","g":"magenta","i":1,"x":3497,"y":1773},{"p":"C","id":"C15","g":"magenta","i":2,"x":3597,"y":1607},{"p":"C","id":"C15","g":"magenta","i":3,"x":3730,"y":1373},{"p":"C","id":"C15","g":"magenta","i":4,"x":3863,"y":1140},{"p":"C","id":"C15","g":"magenta","i":5,"x":3903,"y":990},{"p":"C","id":"C15","g":"magenta","i":6,"x":3913,"y":573},{"p":"C","id":"C15","g":"magenta","i":7,"x":3563,"y":573},{"p":"C","id":"C15","g":"magenta","i":8,"x":3580,"y":990},{"p":"C","id":"C15","g":"magenta","i":9,"x":3497,"y":1273},{"p":"C","id":"C15","g":"magenta","i":10,"x":3413,"y":1573},
{"p":"C","id":"C16","g":"magenta","i":0,"x":3463,"y":1623},{"p":"C","id":"C16","g":"magenta","i":1,"x":3563,"y":1640},{"p":"C","id":"C16","g":"magenta","i":2,"x":3663,"y":1473},{"p":"C","id":"C16","g":"magenta","i":3,"x":3713,"y":1307},{"p":"C","id":"C16","g":"magenta","i":4,"x":3730,"y":1107},{"p":"C","id":"C16","g":"magenta","i":5,"x":3663,"y":1090},{"p":"C","id":"C16","g":"magenta","i":6,"x":3597,"y":1273},{"p":"C","id":"C16","g":"magenta","i":7,"x":3513,"y":1473},
{"p":"D","id":"D1","g":"red","i":0,"x":2880,"y":2807},{"p":"D","id":"D1","g":"red","i":1,"x":2930,"y":2857},{"p":"D","id":"D1","g":"red","i":2,"x":3013,"y":2823},{"p":"D","id":"D1","g":"red","i":3,"x":3047,"y":2740},{"p":"D","id":"D1","g":"red","i":4,"x":2997,"y":2673},{"p":"D","id":"D1","g":"red","i":5,"x":2913,"y":2667},{"p":"D","id":"D1","g":"red","i":6,"x":2857,"y":2740},
{"p":"D","id":"D2","g":"orange","i":0,"x":3030,"y":2640},{"p":"D","id":"D2","g":"orange","i":1,"x":3097,"y":2713},{"p":"D","id":"D2","g":"orange","i":2,"x":3180,"y":2713},{"p":"D","id":"D2","g":"orange","i":3,"x":3253,"y":2607},{"p":"D","id":"D2","g":"orange","i":4,"x":3273,"y":2473},{"p":"D","id":"D2","g":"orange","i":5,"x":3230,"y":2340},{"p":"D","id":"D2","g":"orange","i":6,"x":3163,"y":2247},{"p":"D","id":"D2","g":"orange","i":7,"x":3080,"y":2307},{"p":"D","id":"D2","g":"orange","i":8,"x":3013,"y":2440},
{"p":"D","id":"D3","g":"orange","i":0,"x":3097,"y":2557},{"p":"D","id":"D3","g":"orange","i":1,"x":3163,"y":2583},{"p":"D","id":"D3","g":"orange","i":2,"x":3197,"y":2473},{"p":"D","id":"D3","g":"orange","i":3,"x":3163,"y":2373},{"p":"D","id":"D3","g":"orange","i":4,"x":3107,"y":2423},
{"p":"D","id":"D4","g":"ygreen","i":0,"x":3547,"y":2210},{"p":"D","id":"D4","g":"ygreen","i":1,"x":3483,"y":2495},{"p":"D","id":"D4","g":"ygreen","i":2,"x":3327,"y":2613},{"p":"D","id":"D4","g":"ygreen","i":3,"x":3171,"y":2495},{"p":"D","id":"D4","g":"ygreen","i":4,"x":3107,"y":2210},{"p":"D","id":"D4","g":"ygreen","i":5,"x":3171,"y":1925},{"p":"D","id":"D4","g":"ygreen","i":6,"x":3327,"y":1807},{"p":"D","id":"D4","g":"ygreen","i":7,"x":3483,"y":1925},
{"p":"D","id":"D5","g":"ygreen","i":0,"x":3629,"y":2040},{"p":"D","id":"D5","g":"ygreen","i":1,"x":3587,"y":2146},{"p":"D","id":"D5","g":"ygreen","i":2,"x":3487,"y":2190},{"p":"D","id":"D5","g":"ygreen","i":3,"x":3387,"y":2146},{"p":"D","id":"D5","g":"ygreen","i":4,"x":3345,"y":2040},{"p":"D","id":"D5","g":"ygreen","i":5,"x":3387,"y":1934},{"p":"D","id":"D5","g":"ygreen","i":6,"x":3487,"y":1890},{"p":"D","id":"D5","g":"ygreen","i":7,"x":3587,"y":1934},
{"p":"D","id":"D6","g":"green","i":0,"x":3806,"y":1917},{"p":"D","id":"D6","g":"green","i":1,"x":3714,"y":2350},{"p":"D","id":"D6","g":"green","i":2,"x":3493,"y":2529},{"p":"D","id":"D6","g":"green","i":3,"x":3272,"y":2350},{"p":"D","id":"D6","g":"green","i":4,"x":3180,"y":1917},{"p":"D","id":"D6","g":"green","i":5,"x":3272,"y":1484},{"p":"D","id":"D6","g":"green","i":6,"x":3493,"y":1305},{"p":"D","id":"D6","g":"green","i":7,"x":3714,"y":1484},
{"p":"D","id":"D7","g":"green","i":0,"x":3647,"y":1873},{"p":"D","id":"D7","g":"green","i":1,"x":3603,"y":2038},{"p":"D","id":"D7","g":"green","i":2,"x":3497,"y":2106},{"p":"D","id":"D7","g":"green","i":3,"x":3391,"y":2038},{"p":"D","id":"D7","g":"green","i":4,"x":3347,"y":1873},{"p":"D","id":"D7","g":"green","i":5,"x":3391,"y":1708},{"p":"D","id":"D7","g":"green","i":6,"x":3497,"y":1640},{"p":"D","id":"D7","g":"green","i":7,"x":3603,"y":1708},
{"p":"D","id":"D8","g":"cyan","i":0,"x":3230,"y":2240},{"p":"D","id":"D8","g":"cyan","i":1,"x":3347,"y":2257},{"p":"D","id":"D8","g":"cyan","i":2,"x":3447,"y":2173},{"p":"D","id":"D8","g":"cyan","i":3,"x":3547,"y":2040},{"p":"D","id":"D8","g":"cyan","i":4,"x":3647,"y":1940},{"p":"D","id":"D8","g":"cyan","i":5,"x":3680,"y":2107},{"p":"D","id":"D8","g":"cyan","i":6,"x":3747,"y":2307},{"p":"D","id":"D8","g":"cyan","i":7,"x":3847,"y":2347},{"p":"D","id":"D8","g":"cyan","i":8,"x":3963,"y":2307},{"p":"D","id":"D8","g":"cyan","i":9,"x":4030,"y":2107},{"p":"D","id":"D8","g":"cyan","i":10,"x":4047,"y":1840},{"p":"D","id":"D8","g":"cyan","i":11,"x":4013,"y":1573},{"p":"D","id":"D8","g":"cyan","i":12,"x":3947,"y":1473},{"p":"D","id":"D8","g":"cyan","i":13,"x":3847,"y":1473},{"p":"D","id":"D8","g":"cyan","i":14,"x":3813,"y":1373},{"p":"D","id":"D8","g":"cyan","i":15,"x":3813,"y":1240},{"p":"D","id":"D8","g":"cyan","i":16,"x":3847,"y":1040},{"p":"D","id":"D8","g":"cyan","i":17,"x":3863,"y":573},{"p":"D","id":"D8","g":"cyan","i":18,"x":3547,"y":573},{"p":"D","id":"D8","g":"cyan","i":19,"x":3547,"y":1007},{"p":"D","id":"D8","g":"cyan","i":20,"x":3413,"y":1373},{"p":"D","id":"D8","g":"cyan","i":21,"x":3280,"y":1707},{"p":"D","id":"D8","g":"cyan","i":22,"x":3213,"y":1973},
{"p":"D","id":"D9","g":"blue","i":0,"x":3280,"y":2140},{"p":"D","id":"D9","g":"blue","i":1,"x":3347,"y":2157},{"p":"D","id":"D9","g":"blue","i":2,"x":3447,"y":1973},{"p":"D","id":"D9","g":"blue","i":3,"x":3547,"y":1840},{"p":"D","id":"D9","g":"blue","i":4,"x":3680,"y":1740},{"p":"D","id":"D9","g":"blue","i":5,"x":3797,"y":1773},{"p":"D","id":"D9","g":"blue","i":6,"x":3847,"y":1973},{"p":"D","id":"D9","g":"blue","i":7,"x":3913,"y":2140},{"p":"D","id":"D9","g":"blue","i":8,"x":4013,"y":2200},{"p":"D","id":"D9","g":"blue","i":9,"x":4130,"y":2173},{"p":"D","id":"D9","g":"blue","i":10,"x":4230,"y":2040},{"p":"D","id":"D9","g":"blue","i":11,"x":4287,"y":1840},{"p":"D","id":"D9","g":"blue","i":12,"x":4297,"y":1573},{"p":"D","id":"D9","g":"blue","i":13,"x":4280,"y":1240},{"p":"D","id":"D9","g":"blue","i":14,"x":4213,"y":1140},{"p":"D","id":"D9","g":"blue","i":15,"x":4113,"y":1073},{"p":"D","id":"D9","g":"blue","i":16,"x":4063,"y":990},{"p":"D","id":"D9","g":"blue","i":17,"x":4047,"y":573},{"p":"D","id":"D9","g":"blue","i":18,"x":3547,"y":573},{"p":"D","id":"D9","g":"blue","i":19,"x":3547,"y":990},{"p":"D","id":"D9","g":"blue","i":20,"x":3447,"y":1240},{"p":"D","id":"D9","g":"blue","i":21,"x":3347,"y":1507},{"p":"D","id":"D9","g":"blue","i":22,"x":3273,"y":1840},
{"p":"D","id":"D10","g":"purple","i":0,"x":3330,"y":1907},{"p":"D","id":"D10","g":"purple","i":1,"x":3413,"y":1907},{"p":"D","id":"D10","g":"purple","i":2,"x":3513,"y":1773},{"p":"D","id":"D10","g":"purple","i":3,"x":3647,"y":1673},{"p":"D","id":"D10","g":"purple","i":4,"x":3780,"y":1640},{"p":"D","id":"D10","g":"purple","i":5,"x":3847,"y":1707},{"p":"D","id":"D10","g":"purple","i":6,"x":3913,"y":1840},{"p":"D","id":"D10","g":"purple","i":7,"x":4013,"y":1940},{"p":"D","id":"D10","g":"purple","i":8,"x":4147,"y":1983},{"p":"D","id":"D10","g":"purple","i":9,"x":4280,"y":1957},{"p":"D","id":"D10","g":"purple","i":10,"x":4397,"y":1873},{"p":"D","id":"D10","g":"purple","i":11,"x":4480,"y":1640},{"p":"D","id":"D10","g":"purple","i":12,"x":4513,"y":1340},{"p":"D","id":"D10","g":"purple","i":13,"x":4520,"y":990},{"p":"D","id":"D10","g":"purple","i":14,"x":4530,"y":573},{"p":"D","id":"D10","g":"purple","i":15,"x":3580,"y":573},{"p":"D","id":"D10","g":"purple","i":16,"x":3580,"y":973},{"p":"D","id":"D10","g":"purple","i":17,"x":3480,"y":1107},{"p":"D","id":"D10","g":"purple","i":18,"x":3363,"y":1373},{"p":"D","id":"D10","g":"purple","i":19,"x":3297,"y":1640},
{"p":"D","id":"D11","g":"purple","i":0,"x":3513,"y":1640},{"p":"D","id":"D11","g":"purple","i":1,"x":3597,"y":1607},{"p":"D","id":"D11","g":"purple","i":2,"x":3680,"y":1407},{"p":"D","id":"D11","g":"purple","i":3,"x":3713,"y":1173},{"p":"D","id":"D11","g":"purple","i":4,"x":3730,"y":973},{"p":"D","id":"D11","g":"purple","i":5,"x":3747,"y":573},{"p":"D","id":"D11","g":"purple","i":6,"x":3580,"y":573},{"p":"D","id":"D11","g":"purple","i":7,"x":3587,"y":973},{"p":"D","id":"D11","g":"purple","i":8,"x":3547,"y":1307},{"p":"D","id":"D11","g":"purple","i":9,"x":3513,"y":1507},
{"p":"D","id":"D12","g":"magenta","i":0,"x":3413,"y":1907},{"p":"D","id":"D12","g":"magenta","i":1,"x":3513,"y":1873},{"p":"D","id":"D12","g":"magenta","i":2,"x":3580,"y":1773},{"p":"D","id":"D12","g":"magenta","i":3,"x":3713,"y":1573},{"p":"D","id":"D12","g":"magenta","i":4,"x":3830,"y":1440},{"p":"D","id":"D12","g":"magenta","i":5,"x":3897,"y":1367},{"p":"D","id":"D12","g":"magenta","i":6,"x":3940,"y":1457},{"p":"D","id":"D12","g":"magenta","i":7,"x":3980,"y":1573},{"p":"D","id":"D12","g":"magenta","i":8,"x":4113,"y":1707},{"p":"D","id":"D12","g":"magenta","i":9,"x":4247,"y":1773},{"p":"D","id":"D12","g":"magenta","i":10,"x":4380,"y":1790},{"p":"D","id":"D12","g":"magenta","i":11,"x":4513,"y":1723},{"p":"D","id":"D12","g":"magenta","i":12,"x":4647,"y":1607},{"p":"D","id":"D12","g":"magenta","i":13,"x":4730,"y":1407},{"p":"D","id":"D12","g":"magenta","i":14,"x":4753,"y":1140},{"p":"D","id":"D12","g":"magenta","i":15,"x":4753,"y":990},{"p":"D","id":"D12","g":"magenta","i":16,"x":4763,"y":573},{"p":"D","id":"D12","g":"magenta","i":17,"x":3547,"y":573},{"p":"D","id":"D12","g":"magenta","i":18,"x":3547,"y":990},{"p":"D","id":"D12","g":"magenta","i":19,"x":3480,"y":1240},{"p":"D","id":"D12","g":"magenta","i":20,"x":3413,"y":1507},{"p":"D","id":"D12","g":"magenta","i":21,"x":3387,"y":1773},
{"p":"D","id":"D13","g":"magenta","i":0,"x":3747,"y":1240},{"p":"D","id":"D13","g":"magenta","i":1,"x":3797,"y":1257},{"p":"D","id":"D13","g":"magenta","i":2,"x":3830,"y":1107},{"p":"D","id":"D13","g":"magenta","i":3,"x":3847,"y":990},{"p":"D","id":"D13","g":"magenta","i":4,"x":3847,"y":573},{"p":"D","id":"D13","g":"magenta","i":5,"x":3730,"y":573},{"p":"D","id":"D13","g":"magenta","i":6,"x":3730,"y":990},{"p":"D","id":"D13","g":"magenta","i":7,"x":3740,"y":1140}
]
},
"columns": 2,
"spacing": {"row": 186, "column": 145},
"bounds": "flush",
"concat": [
{"width": 400, "height": 400, "title": {"text": "(ᴀ)\u2002Time:\u2002120 s"},
 "layer": [
  {"data": {"name": "contours"}, "transform": [{"filter": "datum.p == 'A' && datum.g != 'red'"}], "mark": {"type": "line", "interpolate": "cardinal-closed", "strokeWidth": 1, "clip": true}, "encoding": {"x": {"field": "x", "type": "quantitative", "scale": {"domain": [1000, 5000], "nice": false}, "axis": {"values": [1000, 2000, 3000, 4000, 5000], "format": "d"}}, "y": {"field": "y", "type": "quantitative", "scale": {"domain": [1000, 5000], "nice": false}, "axis": {"values": [1000, 2000, 3000, 4000, 5000], "format": "d"}}, "detail": {"field": "id"}, "order": {"field": "i", "type": "quantitative"}, "color": {"field": "g", "type": "nominal", "legend": null, "scale": {"domain": ["red","orange","ygreen","green","cyan","blue","purple","magenta","black","tred","tblue"], "range": ["#ff3b3b","#ffb62e","#9dff3a","#3dff4a","#2ef2f2","#3a66f5","#9a3cf5","#ff3cd2","#000000","#ff0000","#0b6fd9"]}}}},
  {"data": {"name": "contours"}, "transform": [{"filter": "datum.p == 'A' && datum.g == 'red'"}], "mark": {"type": "line", "interpolate": "linear-closed", "strokeWidth": 1, "clip": true}, "encoding": {"x": {"field": "x", "type": "quantitative"}, "y": {"field": "y", "type": "quantitative"}, "detail": {"field": "id"}, "order": {"field": "i", "type": "quantitative"}, "color": {"field": "g", "type": "nominal"}}},
  {"data": {"name": "paths"}, "transform": [{"filter": "datum.p == 'A'"}], "mark": {"type": "line", "strokeWidth": 3, "clip": true}, "encoding": {"x": {"field": "x", "type": "quantitative"}, "y": {"field": "y", "type": "quantitative"}, "detail": {"field": "g"}, "order": {"field": "i", "type": "quantitative"}, "color": {"field": "g", "type": "nominal"}}},
  {"data": {"name": "ref"}, "mark": {"type": "line", "strokeWidth": 3, "color": "#c8c8c8", "strokeDash": [10, 7]}, "encoding": {"x": {"field": "x", "type": "quantitative"}, "y": {"field": "y", "type": "quantitative"}}},
  {"data": {"name": "marks"}, "transform": [{"filter": "datum.p == 'A' && datum.t == 'x'"}], "mark": {"type": "point", "shape": "M-1,-1L1,1M-1,1L1,-1", "size": 64, "strokeWidth": 1.3, "filled": false, "opacity": 1}, "encoding": {"x": {"field": "x", "type": "quantitative"}, "y": {"field": "y", "type": "quantitative"}, "color": {"field": "g", "type": "nominal"}}},
  {"data": {"name": "marks"}, "transform": [{"filter": "datum.p == 'A' && datum.t == 'dot'"}], "mark": {"type": "point", "shape": "circle", "size": 85, "filled": true, "opacity": 1}, "encoding": {"x": {"field": "x", "type": "quantitative"}, "y": {"field": "y", "type": "quantitative"}, "color": {"field": "g", "type": "nominal"}}}
 ]},
{"width": 400, "height": 400, "title": {"text": "(ʙ)\u2002Time:\u2002200 s"},
 "layer": [
  {"data": {"name": "contours"}, "transform": [{"filter": "datum.p == 'B' && datum.g != 'red'"}], "mark": {"type": "line", "interpolate": "cardinal-closed", "strokeWidth": 1, "clip": true}, "encoding": {"x": {"field": "x", "type": "quantitative", "scale": {"domain": [1000, 5000], "nice": false}, "axis": {"values": [1000, 2000, 3000, 4000, 5000], "format": "d"}}, "y": {"field": "y", "type": "quantitative", "scale": {"domain": [1000, 5000], "nice": false}, "axis": {"values": [1000, 2000, 3000, 4000, 5000], "format": "d"}}, "detail": {"field": "id"}, "order": {"field": "i", "type": "quantitative"}, "color": {"field": "g", "type": "nominal", "legend": null, "scale": {"domain": ["red","orange","ygreen","green","cyan","blue","purple","magenta","black","tred","tblue"], "range": ["#ff3b3b","#ffb62e","#9dff3a","#3dff4a","#2ef2f2","#3a66f5","#9a3cf5","#ff3cd2","#000000","#ff0000","#0b6fd9"]}}}},
  {"data": {"name": "contours"}, "transform": [{"filter": "datum.p == 'B' && datum.g == 'red'"}], "mark": {"type": "line", "interpolate": "linear-closed", "strokeWidth": 1, "clip": true}, "encoding": {"x": {"field": "x", "type": "quantitative"}, "y": {"field": "y", "type": "quantitative"}, "detail": {"field": "id"}, "order": {"field": "i", "type": "quantitative"}, "color": {"field": "g", "type": "nominal"}}},
  {"data": {"name": "paths"}, "transform": [{"filter": "datum.p == 'B'"}], "mark": {"type": "line", "strokeWidth": 3, "clip": true}, "encoding": {"x": {"field": "x", "type": "quantitative"}, "y": {"field": "y", "type": "quantitative"}, "detail": {"field": "g"}, "order": {"field": "i", "type": "quantitative"}, "color": {"field": "g", "type": "nominal"}}},
  {"data": {"name": "ref"}, "mark": {"type": "line", "strokeWidth": 3, "color": "#c8c8c8", "strokeDash": [10, 7]}, "encoding": {"x": {"field": "x", "type": "quantitative"}, "y": {"field": "y", "type": "quantitative"}}},
  {"data": {"name": "marks"}, "transform": [{"filter": "datum.p == 'B' && datum.t == 'x'"}], "mark": {"type": "point", "shape": "M-1,-1L1,1M-1,1L1,-1", "size": 64, "strokeWidth": 1.3, "filled": false, "opacity": 1}, "encoding": {"x": {"field": "x", "type": "quantitative"}, "y": {"field": "y", "type": "quantitative"}, "color": {"field": "g", "type": "nominal"}}},
  {"data": {"name": "marks"}, "transform": [{"filter": "datum.p == 'B' && datum.t == 'dot'"}], "mark": {"type": "point", "shape": "circle", "size": 85, "filled": true, "opacity": 1}, "encoding": {"x": {"field": "x", "type": "quantitative"}, "y": {"field": "y", "type": "quantitative"}, "color": {"field": "g", "type": "nominal"}}}
 ]},
{"width": 400, "height": 400, "title": {"text": "(ᴄ)\u2002Time:\u2002300 s"},
 "layer": [
  {"data": {"name": "contours"}, "transform": [{"filter": "datum.p == 'C' && datum.g != 'red'"}], "mark": {"type": "line", "interpolate": "cardinal-closed", "strokeWidth": 1, "clip": true}, "encoding": {"x": {"field": "x", "type": "quantitative", "scale": {"domain": [1000, 5000], "nice": false}, "axis": {"values": [1000, 2000, 3000, 4000, 5000], "format": "d"}}, "y": {"field": "y", "type": "quantitative", "scale": {"domain": [1000, 5000], "nice": false}, "axis": {"values": [1000, 2000, 3000, 4000, 5000], "format": "d"}}, "detail": {"field": "id"}, "order": {"field": "i", "type": "quantitative"}, "color": {"field": "g", "type": "nominal", "legend": null, "scale": {"domain": ["red","orange","ygreen","green","cyan","blue","purple","magenta","black","tred","tblue"], "range": ["#ff3b3b","#ffb62e","#9dff3a","#3dff4a","#2ef2f2","#3a66f5","#9a3cf5","#ff3cd2","#000000","#ff0000","#0b6fd9"]}}}},
  {"data": {"name": "contours"}, "transform": [{"filter": "datum.p == 'C' && datum.g == 'red'"}], "mark": {"type": "line", "interpolate": "linear-closed", "strokeWidth": 1, "clip": true}, "encoding": {"x": {"field": "x", "type": "quantitative"}, "y": {"field": "y", "type": "quantitative"}, "detail": {"field": "id"}, "order": {"field": "i", "type": "quantitative"}, "color": {"field": "g", "type": "nominal"}}},
  {"data": {"name": "paths"}, "transform": [{"filter": "datum.p == 'C'"}], "mark": {"type": "line", "strokeWidth": 3, "clip": true}, "encoding": {"x": {"field": "x", "type": "quantitative"}, "y": {"field": "y", "type": "quantitative"}, "detail": {"field": "g"}, "order": {"field": "i", "type": "quantitative"}, "color": {"field": "g", "type": "nominal"}}},
  {"data": {"name": "ref"}, "mark": {"type": "line", "strokeWidth": 3, "color": "#c8c8c8", "strokeDash": [10, 7]}, "encoding": {"x": {"field": "x", "type": "quantitative"}, "y": {"field": "y", "type": "quantitative"}}},
  {"data": {"name": "marks"}, "transform": [{"filter": "datum.p == 'C' && datum.t == 'x'"}], "mark": {"type": "point", "shape": "M-1,-1L1,1M-1,1L1,-1", "size": 64, "strokeWidth": 1.3, "filled": false, "opacity": 1}, "encoding": {"x": {"field": "x", "type": "quantitative"}, "y": {"field": "y", "type": "quantitative"}, "color": {"field": "g", "type": "nominal"}}},
  {"data": {"name": "marks"}, "transform": [{"filter": "datum.p == 'C' && datum.t == 'dot'"}], "mark": {"type": "point", "shape": "circle", "size": 85, "filled": true, "opacity": 1}, "encoding": {"x": {"field": "x", "type": "quantitative"}, "y": {"field": "y", "type": "quantitative"}, "color": {"field": "g", "type": "nominal"}}}
 ]},
{"width": 400, "height": 400, "title": {"text": "(ᴅ)\u2002Time:\u2002400 s"},
 "layer": [
  {"data": {"name": "contours"}, "transform": [{"filter": "datum.p == 'D' && datum.g != 'red'"}], "mark": {"type": "line", "interpolate": "cardinal-closed", "strokeWidth": 1, "clip": true}, "encoding": {"x": {"field": "x", "type": "quantitative", "scale": {"domain": [1000, 5000], "nice": false}, "axis": {"values": [1000, 2000, 3000, 4000, 5000], "format": "d"}}, "y": {"field": "y", "type": "quantitative", "scale": {"domain": [1000, 5000], "nice": false}, "axis": {"values": [1000, 2000, 3000, 4000, 5000], "format": "d"}}, "detail": {"field": "id"}, "order": {"field": "i", "type": "quantitative"}, "color": {"field": "g", "type": "nominal", "legend": null, "scale": {"domain": ["red","orange","ygreen","green","cyan","blue","purple","magenta","black","tred","tblue"], "range": ["#ff3b3b","#ffb62e","#9dff3a","#3dff4a","#2ef2f2","#3a66f5","#9a3cf5","#ff3cd2","#000000","#ff0000","#0b6fd9"]}}}},
  {"data": {"name": "contours"}, "transform": [{"filter": "datum.p == 'D' && datum.g == 'red'"}], "mark": {"type": "line", "interpolate": "linear-closed", "strokeWidth": 1, "clip": true}, "encoding": {"x": {"field": "x", "type": "quantitative"}, "y": {"field": "y", "type": "quantitative"}, "detail": {"field": "id"}, "order": {"field": "i", "type": "quantitative"}, "color": {"field": "g", "type": "nominal"}}},
  {"data": {"name": "paths"}, "transform": [{"filter": "datum.p == 'D'"}], "mark": {"type": "line", "strokeWidth": 3, "clip": true}, "encoding": {"x": {"field": "x", "type": "quantitative"}, "y": {"field": "y", "type": "quantitative"}, "detail": {"field": "g"}, "order": {"field": "i", "type": "quantitative"}, "color": {"field": "g", "type": "nominal"}}},
  {"data": {"name": "ref"}, "mark": {"type": "line", "strokeWidth": 3, "color": "#c8c8c8", "strokeDash": [10, 7]}, "encoding": {"x": {"field": "x", "type": "quantitative"}, "y": {"field": "y", "type": "quantitative"}}},
  {"data": {"name": "marks"}, "transform": [{"filter": "datum.p == 'D' && datum.t == 'x'"}], "mark": {"type": "point", "shape": "M-1,-1L1,1M-1,1L1,-1", "size": 64, "strokeWidth": 1.3, "filled": false, "opacity": 1}, "encoding": {"x": {"field": "x", "type": "quantitative"}, "y": {"field": "y", "type": "quantitative"}, "color": {"field": "g", "type": "nominal"}}},
  {"data": {"name": "marks"}, "transform": [{"filter": "datum.p == 'D' && datum.t == 'dot'"}], "mark": {"type": "point", "shape": "circle", "size": 85, "filled": true, "opacity": 1}, "encoding": {"x": {"field": "x", "type": "quantitative"}, "y": {"field": "y", "type": "quantitative"}, "color": {"field": "g", "type": "nominal"}}}
 ]}
]
}
